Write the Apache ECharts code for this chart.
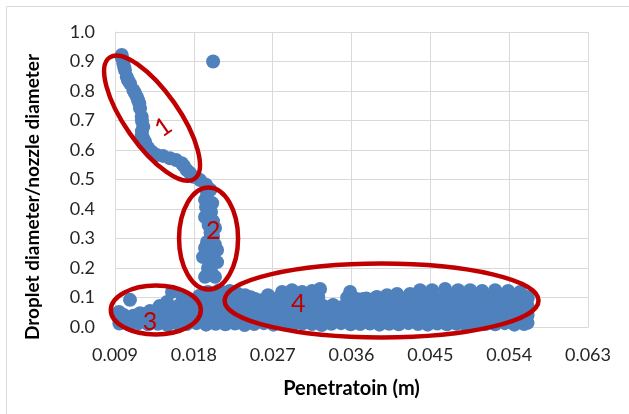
<!DOCTYPE html>
<html><head><meta charset="utf-8">
<script src="https://cdn.jsdelivr.net/npm/echarts@6/dist/echarts.min.js"></script>
<style>html,body{margin:0;padding:0;background:#fff}#c{width:629px;height:414px}</style>
</head><body><div id="c"></div>
<script>
// ---- data ----
const xTicks = [0.009, 0.018, 0.027, 0.036, 0.045, 0.054, 0.063];
const yTicks = [0.0, 0.1, 0.2, 0.3, 0.4, 0.5, 0.6, 0.7, 0.8, 0.9, 1.0];
const xAxisTitle = 'Penetratoin (m)';
const yAxisTitle = 'Droplet diameter/nozzle diameter';

// region 1: descending branch
const branch1 = [[0.00977,0.922],[0.0098,0.912],[0.00995,0.894],[0.01005,0.881],[0.01014,0.871],[0.01034,0.848],[0.01048,0.837],[0.01071,0.826],[0.01109,0.803],[0.01128,0.793],[0.01148,0.781],[0.01163,0.769],[0.01177,0.758],[0.01186,0.741],[0.01205,0.713],[0.01208,0.698],[0.01223,0.679],[0.01208,0.664],[0.01205,0.651],[0.0122,0.640],[0.01243,0.628],[0.01254,0.617],[0.0128,0.606],[0.01323,0.593],[0.01376,0.583],[0.01448,0.580],[0.01528,0.572],[0.01597,0.566],[0.01662,0.555],[0.01688,0.546],[0.01719,0.532],[0.01756,0.522],[0.01794,0.509]];
const outlier = [[0.0202,0.900]];
// region 2: vertical column
const column2 = [[0.01871,0.498],[0.01939,0.482],[0.0199,0.465],[0.01951,0.454],[0.01928,0.431],[0.0201,0.420],[0.01939,0.407],[0.01996,0.390],[0.01928,0.373],[0.02019,0.359],[0.0197,0.345],[0.02042,0.336],[0.0199,0.320],[0.02019,0.308],[0.01951,0.288],[0.0204,0.280],[0.01928,0.268],[0.02065,0.261],[0.0195,0.255],[0.02008,0.244],[0.01905,0.237],[0.0199,0.225],[0.02065,0.220],[0.01962,0.200],[0.0200,0.185],[0.01928,0.170],[0.02042,0.170]];
// region 3: small cluster (upper points)
const cluster3Top = [[0.00946,0.051],[0.01071,0.092],[0.01186,0.047],[0.0130,0.054],[0.01391,0.061],[0.01494,0.085],[0.01551,0.119],[0.01665,0.108],[0.01734,0.095],[0.0186,0.105],[0.0196,0.119],[0.0209,0.125],[0.0221,0.122]];
// region 4: long band (upper points)
const band4Top = [[0.02213,0.119],[0.02305,0.112],[0.02385,0.108],[0.02499,0.095],[0.02647,0.108],[0.02807,0.119],[0.02921,0.125],[0.03036,0.119],[0.0315,0.122],[0.03241,0.129],[0.0339,0.075],[0.03584,0.119],[0.03732,0.095],[0.03892,0.102],[0.04006,0.108],[0.0412,0.112],[0.04269,0.112],[0.04383,0.125],[0.0452,0.125],[0.04669,0.129],[0.04817,0.125],[0.04954,0.125],[0.05091,0.122],[0.0524,0.125],[0.05388,0.122],[0.05525,0.119],[0.0561,0.102]];
// dense low-diameter droplets
const lowA = [[0.0095,0.012],[0.0106,0.008],[0.0117,0.013],[0.0128,0.009],[0.0139,0.011],[0.0150,0.007],[0.0161,0.012],[0.0172,0.010],[0.0183,0.013],[0.0194,0.008],[0.0205,0.011],[0.0216,0.009],[0.0227,0.012],[0.0238,0.007],[0.0249,0.010],[0.0260,0.013],[0.0271,0.008],[0.0282,0.011],[0.0293,0.009],[0.0304,0.012],[0.0315,0.010],[0.0326,0.007],[0.0337,0.011],[0.0348,0.013],[0.0359,0.009],[0.0370,0.010],[0.0381,0.012],[0.0392,0.008],[0.0403,0.011],[0.0414,0.009],[0.0425,0.013],[0.0436,0.010],[0.0447,0.008],[0.0458,0.012],[0.0469,0.009],[0.0480,0.011],[0.0491,0.007],[0.0502,0.012],[0.0513,0.010],[0.0524,0.009],[0.0535,0.013],[0.0546,0.008],[0.0557,0.010],[0.0561,0.014]];
const lowB = [[0.0100,0.041],[0.0111,0.038],[0.0122,0.043],[0.0133,0.039],[0.0144,0.042],[0.0155,0.040],[0.0166,0.044],[0.0177,0.038],[0.0188,0.041],[0.0199,0.043],[0.0210,0.039],[0.0221,0.042],[0.0232,0.040],[0.0243,0.044],[0.0254,0.038],[0.0265,0.041],[0.0276,0.043],[0.0287,0.039],[0.0298,0.042],[0.0309,0.040],[0.0320,0.044],[0.0331,0.038],[0.0342,0.041],[0.0353,0.043],[0.0364,0.039],[0.0375,0.042],[0.0386,0.040],[0.0397,0.044],[0.0408,0.038],[0.0419,0.041],[0.0430,0.043],[0.0441,0.039],[0.0452,0.042],[0.0463,0.040],[0.0474,0.044],[0.0485,0.038],[0.0496,0.041],[0.0507,0.043],[0.0518,0.039],[0.0529,0.042],[0.0540,0.040],[0.0551,0.044],[0.0561,0.040]];
const lowC = [[0.0141,0.071],[0.0152,0.068],[0.0163,0.073],[0.0174,0.070],[0.0185,0.072],[0.0196,0.069],[0.0207,0.074],[0.0218,0.070],[0.0229,0.072],[0.0240,0.068],[0.0251,0.071],[0.0262,0.073],[0.0273,0.069],[0.0284,0.072],[0.0295,0.070],[0.0306,0.074],[0.0317,0.068],[0.0328,0.071],[0.0339,0.073],[0.0350,0.069],[0.0361,0.072],[0.0372,0.070],[0.0383,0.074],[0.0394,0.068],[0.0405,0.071],[0.0416,0.073],[0.0427,0.069],[0.0438,0.072],[0.0449,0.070],[0.0460,0.074],[0.0471,0.068],[0.0482,0.071],[0.0493,0.073],[0.0504,0.069],[0.0515,0.072],[0.0526,0.070],[0.0537,0.074],[0.0548,0.068],[0.0561,0.071]];
const lowD = [[0.0190,0.099],[0.0201,0.102],[0.0212,0.097],[0.0223,0.100],[0.0234,0.098],[0.0245,0.101],[0.0256,0.090],[0.0267,0.099],[0.0278,0.102],[0.0289,0.097],[0.0300,0.100],[0.0311,0.098],[0.0322,0.101],[0.0355,0.099],[0.0366,0.095],[0.0377,0.097],[0.0388,0.100],[0.0399,0.098],[0.0410,0.101],[0.0421,0.097],[0.0432,0.100],[0.0443,0.099],[0.0454,0.102],[0.0465,0.097],[0.0476,0.100],[0.0487,0.098],[0.0498,0.101],[0.0509,0.097],[0.0520,0.100],[0.0531,0.099],[0.0542,0.102],[0.0553,0.098],[0.0561,0.096]];

// region annotations (centers in data units)
const regionLabels = ['1', '2', '3', '4'];
const regionCenters = [[0.01323, 0.708], [0.01968, 0.300], [0.01366, 0.0576], [0.03943, 0.0898]];
const labelPositions = [[0.01452, 0.677], [0.02023, 0.325], [0.0130, 0.017], [0.02993, 0.079]];

// ---- chart ----
const BLUE = '#4F81BD', RED = '#C00000', GRID = '#D9D9D9';
const chart = echarts.init(document.getElementById('c'), null, {renderer: 'canvas'});
const allSets = [lowA, lowB, lowC, lowD, cluster3Top, band4Top, column2, branch1, outlier];
const series = allSets.map(d => ({
  type: 'scatter', data: d, symbol: 'circle', symbolSize: 14,
  itemStyle: {color: BLUE, opacity: 1}, silent: true
}));

chart.setOption({
  animation: false,
  backgroundColor: '#fff',
  grid: {left: 115, right: 41, top: 32, bottom: 87},
  xAxis: {
    type: 'value', min: xTicks[0], max: xTicks[xTicks.length - 1], interval: 0.009,
    name: xAxisTitle, nameLocation: 'middle', nameGap: 52,
    nameTextStyle: {fontFamily: 'Lato', fontWeight: 'bold', fontSize: 20, color: '#000'},
    axisLine: {show: true, lineStyle: {color: GRID, width: 1}},
    axisTick: {show: false},
    splitLine: {show: true, lineStyle: {color: GRID, width: 1}},
    axisLabel: {fontFamily: 'Lato', fontSize: 18, color: '#262626', margin: 19,
      formatter: v => v.toFixed(3)}
  },
  yAxis: {
    type: 'value', min: yTicks[0], max: yTicks[yTicks.length - 1], interval: 0.1,
    axisLine: {show: true, lineStyle: {color: GRID, width: 1}},
    axisTick: {show: false},
    splitLine: {show: true, lineStyle: {color: GRID, width: 1}},
    axisLabel: {fontFamily: 'Lato', fontSize: 18, color: '#262626', margin: 20,
      formatter: v => v.toFixed(1)}
  },
  series: series
});

// annotations: ellipses and numbers placed via the axes' scales
const ellipseSpec = [
  {rx: 74, ry: 27, rot: -55},
  {rx: 29.5, ry: 51, rot: 0},
  {rx: 45, ry: 24.5, rot: 0},
  {rx: 157, ry: 37, rot: 0}
];
const labelRot = [35, 0, 0, 0];
const graphics = [{
  type: 'rect', silent: true, z: -10,
  shape: {x: 6.5, y: 6.5, width: 660, height: 440},
  style: {fill: 'none', stroke: GRID, lineWidth: 1}
}, {
  type: 'text', silent: true, x: 33, y: 197, rotation: Math.PI / 2,
  style: {text: yAxisTitle, fill: '#000', fontFamily: 'Lato', fontWeight: 'bold', fontSize: 19,
    align: 'center', verticalAlign: 'middle'}
}];
regionCenters.forEach((c, i) => {
  const p = chart.convertToPixel({gridIndex: 0}, c);
  const e = ellipseSpec[i];
  graphics.push({
    type: 'ellipse', x: p[0], y: p[1], rotation: e.rot * Math.PI / 180, z: 100, silent: true,
    shape: {cx: 0, cy: 0, rx: e.rx, ry: e.ry},
    style: {fill: 'none', stroke: RED, lineWidth: 4.5}
  });
});
labelPositions.forEach((c, i) => {
  const p = chart.convertToPixel({gridIndex: 0}, c);
  graphics.push({
    type: 'text', x: p[0], y: p[1], rotation: labelRot[i] * Math.PI / 180, z: 101, silent: true,
    style: {text: regionLabels[i], fill: RED, fontFamily: 'Lato', fontSize: 25,
      align: 'center', verticalAlign: 'middle'}
  });
});
chart.setOption({graphic: graphics});
</script>
</body></html>
